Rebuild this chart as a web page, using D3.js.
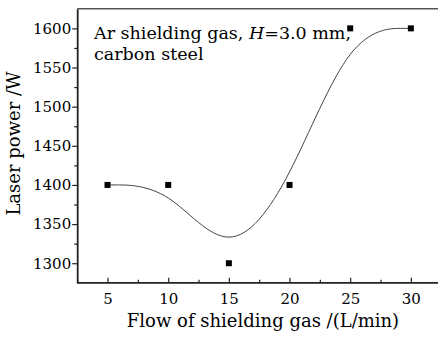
<!DOCTYPE html>
<html>
<head>
<meta charset="utf-8">
<script src="https://cdn.jsdelivr.net/npm/d3@7"></script>
<style>
  html, body { margin: 0; padding: 0; background: #fff; }
  svg { display: block; }
  text { font-family: "DejaVu Serif", serif; fill: #000; }
</style>
</head>
<body>
<svg id="chart" width="438" height="337"></svg>
<script>
// ---- data ----
const flow = [5, 10, 15, 20, 25, 30];
const power = [1400, 1400, 1300, 1400, 1600, 1600];
const xTicks = [5, 10, 15, 20, 25, 30];
const xMinor = [2.5, 7.5, 12.5, 17.5, 22.5, 27.5, 32.5];
const yTicks = [1300, 1350, 1400, 1450, 1500, 1550, 1600];
const yMinor = [1325, 1375, 1425, 1475, 1525, 1575];
const xTitle = "Flow of shielding gas /(L/min)";
const yTitle = "Laser power /W";

const svg = d3.select("#chart");
const x = d3.scaleLinear().domain([2.5, 32.5]).range([77.2, 441.2]);
const y = d3.scaleLinear().domain([1275, 1625]).range([282.8, 8.8]);

const ax = "#222";

// top frame line
svg.append("line")
  .attr("x1", x(2.5)).attr("x2", 438)
  .attr("y1", y(1625)).attr("y2", y(1625))
  .attr("stroke", "#555").attr("stroke-width", 1.5);

// curve (B-spline through the points)
const pts = flow.map((f, i) => [f, power[i]]);
svg.append("path")
  .datum(pts)
  .attr("fill", "none")
  .attr("stroke", "#444")
  .attr("stroke-width", 1)
  .attr("d", d3.line().x(d => x(d[0])).y(d => y(d[1])).curve(d3.curveBasis));

// markers
svg.selectAll("rect.pt").data(pts).join("rect")
  .attr("class", "pt")
  .attr("x", d => x(d[0]) - 3).attr("y", d => y(d[1]) - 3)
  .attr("width", 6).attr("height", 6)
  .attr("fill", "#000");

// x axis
const gx = svg.append("g").attr("transform", `translate(0,${y(1275)})`);
gx.call(d3.axisBottom(x).tickValues(xTicks).tickFormat(d3.format("d"))
  .tickSizeInner(-5).tickSizeOuter(0).tickPadding(11));
gx.append("g").call(d3.axisBottom(x).tickValues(xMinor).tickFormat("")
  .tickSizeInner(-3).tickSizeOuter(0))
  .select(".domain").remove();

// y axis
const gy = svg.append("g").attr("transform", `translate(${x(2.5)},0)`);
gy.call(d3.axisLeft(y).tickValues(yTicks).tickFormat(d3.format("d"))
  .tickSizeInner(5).tickSizeOuter(0).tickPadding(1));
gy.append("g").call(d3.axisLeft(y).tickValues(yMinor).tickFormat("")
  .tickSizeInner(3).tickSizeOuter(0))
  .select(".domain").remove();

svg.selectAll(".domain").attr("stroke", ax).attr("stroke-width", 1.8);
svg.selectAll(".tick line").attr("stroke", ax).attr("stroke-width", 1.2);
svg.selectAll(".tick text")
  .attr("font-family", "DejaVu Serif, serif")
  .attr("font-size", 15).attr("fill", "#000");

// extend x axis line to right edge
gx.select(".domain").attr("d", `M${x(2.5)},0H438`);

// axis titles
svg.append("text")
  .attr("x", 263).attr("y", 327)
  .attr("text-anchor", "middle")
  .attr("font-size", 18)
  .text(xTitle);

svg.append("text")
  .attr("transform", "translate(20,143.5) rotate(-90)")
  .attr("text-anchor", "middle")
  .attr("font-size", 18)
  .text(yTitle);

// annotation
const ann = svg.append("text").attr("x", 94).attr("y", 39).attr("font-size", 17.5);
ann.append("tspan").text("Ar shielding gas, ");
ann.append("tspan").attr("font-style", "italic").text("H");
ann.append("tspan").text("=3.0 mm,");
svg.append("text").attr("x", 94).attr("y", 60).attr("font-size", 17.5).text("carbon steel");
</script>
</body>
</html>
